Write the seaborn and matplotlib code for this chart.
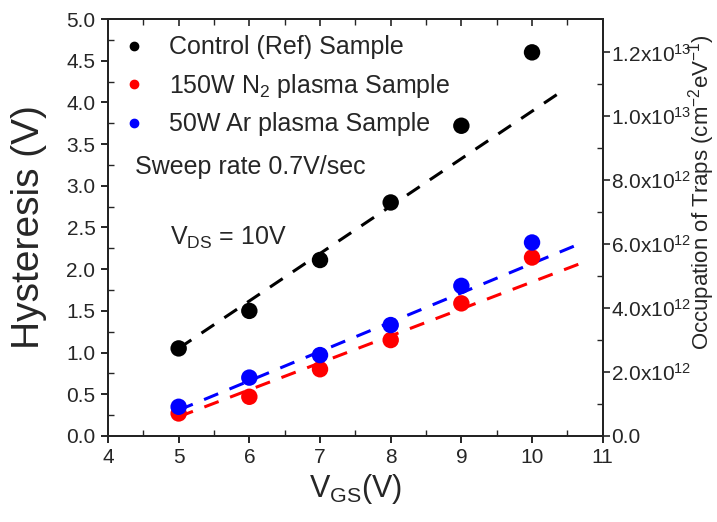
import numpy as np
import pandas as pd
import matplotlib
matplotlib.use('Agg')
import matplotlib.pyplot as plt
import seaborn as sns
from matplotlib.ticker import MultipleLocator, FixedLocator, FuncFormatter

# measured data
vgs = [5, 6, 7, 8, 9, 10]
control = [1.05, 1.50, 2.11, 2.80, 3.72, 4.60]
n2 = [0.27, 0.47, 0.80, 1.15, 1.59, 2.14]
ar = [0.35, 0.70, 0.97, 1.33, 1.80, 2.32]

# dashed fit lines (end points)
fit_x_ctrl = [5.0, 10.45]
fit_y_ctrl = [1.05, 4.15]
fit_x_plasma = [5.0, 10.69]
fit_y_n2 = [0.23, 2.07]
fit_y_ar = [0.31, 2.31]

labels = ['Control (Ref) Sample', r'150W N$_2$ plasma Sample', '50W Ar plasma Sample']
colors = ['black', 'red', 'blue']

sns.set_style('ticks')
plt.rcParams['font.family'] = ['Liberation Sans', 'DejaVu Sans']
plt.rcParams['mathtext.fontset'] = 'custom'
plt.rcParams['mathtext.rm'] = 'Liberation Sans'
plt.rcParams['mathtext.it'] = 'Liberation Sans'
plt.rcParams['mathtext.default'] = 'regular'

df = pd.DataFrame({
    'VGS': vgs * 3,
    'H': control + n2 + ar,
    'sample': [labels[0]] * 6 + [labels[1]] * 6 + [labels[2]] * 6,
})

fig = plt.figure(figsize=(7.17, 5.22), dpi=100)
ax = fig.add_axes([0.1506, 0.1648, 0.6900, 0.7988])

# fit lines
dash = (0, (5, 4))
sns.lineplot(x=fit_x_ctrl, y=fit_y_ctrl, ax=ax, color='black', lw=2.2, linestyle=dash)
sns.lineplot(x=fit_x_plasma, y=fit_y_n2, ax=ax, color='red', lw=2.2, linestyle=dash)
sns.lineplot(x=fit_x_plasma, y=fit_y_ar, ax=ax, color='blue', lw=2.2, linestyle=dash)

sns.scatterplot(data=df, x='VGS', y='H', hue='sample', palette=colors, s=140,
                edgecolor='none', ax=ax, zorder=3, legend=False)

# legend with small dots
handles = [plt.Line2D([], [], marker='o', ls='', color=c, markersize=6) for c in colors]
ax.legend(handles, labels, loc='upper left', bbox_to_anchor=(0.0, 1.0), frameon=False,
          fontsize=18, handlelength=0.8, handletextpad=1.0, labelspacing=0.5,
          borderaxespad=0.35, borderpad=0.3)

ax.text(0.055, 0.645, 'Sweep rate 0.7V/sec', transform=ax.transAxes, fontsize=18, va='center')
ax.text(0.125, 0.475, r'V$_{DS}$ = 10V', transform=ax.transAxes, fontsize=18, va='center')

ax.set_xlim(4, 11)
ax.set_ylim(0, 5)
ax.xaxis.set_major_locator(MultipleLocator(1))
ax.xaxis.set_minor_locator(MultipleLocator(0.5))
ax.yaxis.set_major_locator(MultipleLocator(0.5))
ax.yaxis.set_minor_locator(MultipleLocator(0.25))
ax.yaxis.set_major_formatter(FuncFormatter(lambda v, p: f'{v:.1f}'))
ax.tick_params(axis='both', which='major', labelsize=15, direction='out', length=5, width=1.2,
               color='black', pad=4)
ax.tick_params(axis='both', which='minor', direction='in', length=4, width=1.0)
for sp in ax.spines.values():
    sp.set_linewidth(1.3)
    sp.set_color('black')
    sp.set_visible(True)

# top axis: ticks pointing inward, no labels
top = ax.secondary_xaxis('top')
top.xaxis.set_major_locator(MultipleLocator(1))
top.xaxis.set_minor_locator(MultipleLocator(0.5))
top.tick_params(which='major', direction='in', length=5, width=1.2, labeltop=False)
top.tick_params(which='minor', direction='in', length=4, width=1.0)
top.spines['top'].set_linewidth(1.3)

ax.set_xlabel(r'V$_{GS}$(V)', fontsize=22, labelpad=3)
ax.set_ylabel('Hysteresis (V)', fontsize=28, labelpad=14)

# right axis: trap occupation
scale = 1.2e13 / 4.6
ax2 = ax.twinx()
ax2.set_ylim(0, 5 * scale)
ax2.yaxis.set_major_locator(FixedLocator([0, 2e12, 4e12, 6e12, 8e12, 1e13, 1.2e13]))
ax2.yaxis.set_minor_locator(FixedLocator([1e12, 3e12, 5e12, 7e12, 9e12, 1.1e13]))


def fmt(v, p):
    if v == 0:
        return '0.0'
    e = int(np.floor(np.log10(v)))
    m = v / 10 ** e
    return r'$%.1f\mathregular{x}10^{%d}$' % (m, e)


ax2.yaxis.set_major_formatter(FuncFormatter(fmt))
ax2.tick_params(axis='y', which='major', labelsize=15, direction='out', length=5, width=1.2, pad=1)
ax2.tick_params(axis='y', which='minor', direction='in', length=4, width=1.0)
ax2.set_ylabel(r'Occupation of Traps (cm$^{-2}$eV$^{-1}$)', fontsize=16)
ax2.yaxis.set_label_coords(1.168, 0.585)
for sp in ax2.spines.values():
    sp.set_linewidth(1.3)

fig.savefig('out.png', dpi=100)
